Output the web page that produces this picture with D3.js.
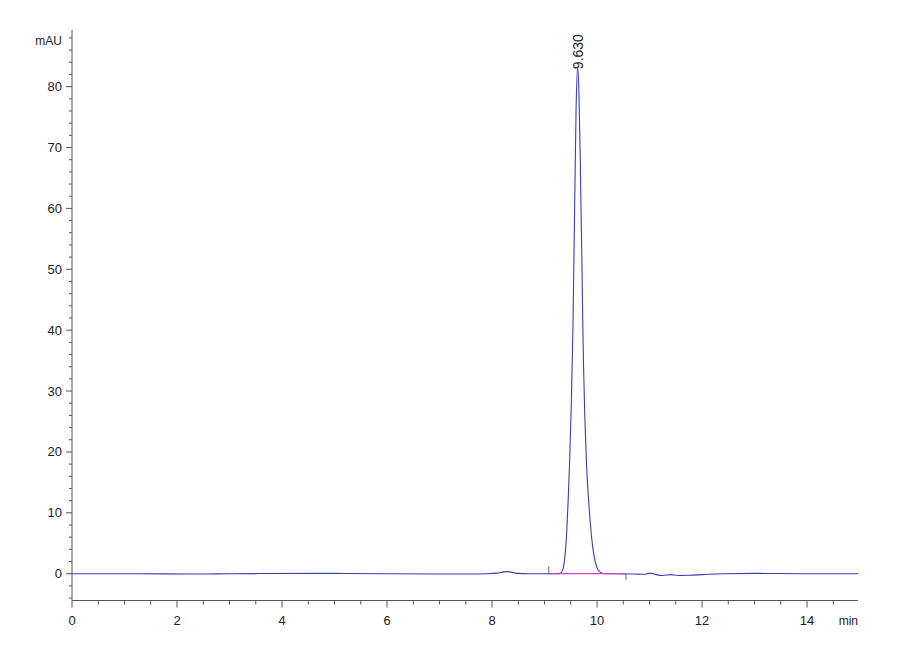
<!DOCTYPE html>
<html>
<head>
<meta charset="utf-8">
<script src="https://cdn.jsdelivr.net/npm/d3@7"></script>
<style>
body { margin:0; background:#fff; }
text { font-family:"Liberation Sans Narrow","Liberation Sans",Arial,sans-serif; fill:#222; }
</style>
</head>
<body>
<div id="svg-area"></div>
<script>
/* Global Variables*/
// retention times (min) and signal (mAU)
var times = [0, 1, 2.5, 3, 5, 6, 7.5, 7.9, 8.1, 8.22, 8.3, 8.4, 8.5, 8.7, 9.0, 9.25,
    9.30, 9.34, 9.38, 9.42, 9.45, 9.48, 9.51, 9.54, 9.57, 9.60, 9.63, 9.655, 9.68, 9.71,
    9.74, 9.77, 9.80, 9.84, 9.88, 9.92, 9.97, 10.02, 10.08, 10.15, 10.4, 10.7, 10.9,
    11.0, 11.1, 11.25, 11.4, 11.55, 11.75, 12.0, 12.4, 13, 14, 14.97];
var signal = [0, 0, -0.05, 0, 0.05, 0, -0.05, 0, 0.1, 0.3, 0.35, 0.2, 0.05, 0, 0, 0.02,
    0.05, 0.5, 2.2, 6.5, 12, 19, 28, 40, 58, 76, 83.2, 79, 68, 52,
    35, 25, 18, 12, 7.5, 4.2, 1.8, 0.6, 0.15, 0, 0, -0.05, -0.1,
    0.1, -0.1, -0.3, -0.15, -0.3, -0.25, -0.15, 0, 0.05, 0, 0];

var peakTimes = [9.630];
var peakHeights = [83.2];
var baseStart = [9.08];
var baseEnd = [10.55];

var xTicks = [0, 2, 4, 6, 8, 10, 12, 14];
var yTicks = [0, 10, 20, 30, 40, 50, 60, 70, 80];

var width = 900;
var height = 660;
var lineColor = '#3c3cb4';
var axisColor = '#555';

var x = d3.scaleLinear().domain([0, 14.97]).range([72, 858]);
var y = d3.scaleLinear().domain([-4.4, 89.3]).range([600.5, 30]);

/*Setup the chart */
displayChart();

/*
 * Main function to draw the chromatogram
 */
function displayChart(){
    var svg = d3.select('#svg-area')
	.append('svg')
	.attr('width', width)
	.attr('height', height);
    displayAxes(svg);
    displayTrace(svg);
    displayBaseline(svg);
    displayPeakLabels(svg);
}

/*
 * Draw both axes with major and minor ticks
 * svg: the svg to draw on
 */
function displayAxes(svg){
    // minor ticks every 0.5 min, every 2 mAU
    var xMinor = d3.range(0, 15, 0.5);
    var yMinor = d3.range(-4, 90, 2);

    var xAxis = svg.append('g')
	.attr('transform', 'translate(0,' + y(-4.4) + ')');
    xAxis.append('line')
	.attr('x1', x(0)).attr('x2', x(14.97))
	.attr('stroke', axisColor);
    xAxis.selectAll('.minor')
	.data(xMinor)
	.enter()
	.append('line')
	.attr('x1', function(d){ return x(d);})
	.attr('x2', function(d){ return x(d);})
	.attr('y1', 0)
	.attr('y2', function(d){ return d % 2 == 0 ? 7 : 4;})
	.attr('stroke', axisColor);
    xAxis.selectAll('text')
	.data(xTicks)
	.enter()
	.append('text')
	.attr('x', function(d){ return x(d);})
	.attr('y', 24)
	.attr('text-anchor', 'middle')
	.style('font-size', '13px')
	.text(function(d){ return d;});
    xAxis.append('text')
	.attr('x', x(14.97))
	.attr('y', 24)
	.attr('text-anchor', 'end')
	.style('font-size', '12px')
	.text('min');

    var yAxis = svg.append('g')
	.attr('transform', 'translate(' + x(0) + ',0)');
    yAxis.append('line')
	.attr('y1', y(-4.4)).attr('y2', y(89.3))
	.attr('stroke', axisColor);
    yAxis.selectAll('.minor')
	.data(yMinor)
	.enter()
	.append('line')
	.attr('y1', function(d){ return y(d);})
	.attr('y2', function(d){ return y(d);})
	.attr('x1', function(d){ return d % 10 == 0 ? -6 : -3;})
	.attr('x2', 0)
	.attr('stroke', axisColor);
    yAxis.selectAll('text')
	.data(yTicks)
	.enter()
	.append('text')
	.attr('x', -10)
	.attr('y', function(d){ return y(d);})
	.attr('dy', '0.35em')
	.attr('text-anchor', 'end')
	.style('font-size', '13px')
	.text(function(d){ return d;});
    yAxis.append('text')
	.attr('x', -10)
	.attr('y', y(87.5))
	.attr('dy', '0.35em')
	.attr('text-anchor', 'end')
	.style('font-size', '12px')
	.text('mAU');
}

/*
 * Draw the integration baseline with its start and end marks
 * svg: the svg to draw on
 */
function displayBaseline(svg){
    var g = svg.append('g');
    g.selectAll('.base')
	.data(baseStart)
	.enter()
	.append('line')
	.attr('x1', function(d){ return x(d);})
	.attr('x2', function(d, i){ return x(baseEnd[i]);})
	.attr('y1', y(0)).attr('y2', y(0))
	.attr('stroke', '#e040c8')
	.attr('stroke-width', 1.3);
    g.selectAll('.start')
	.data(baseStart)
	.enter()
	.append('line')
	.attr('x1', function(d){ return x(d);})
	.attr('x2', function(d){ return x(d);})
	.attr('y1', y(0) - 7).attr('y2', y(0))
	.attr('stroke', '#666');
    g.selectAll('.end')
	.data(baseEnd)
	.enter()
	.append('line')
	.attr('x1', function(d){ return x(d);})
	.attr('x2', function(d){ return x(d);})
	.attr('y1', y(0)).attr('y2', y(0) + 6)
	.attr('stroke', '#666');
}

/*
 * Draw the detector trace
 * svg: the svg to draw on
 */
function displayTrace(svg){
    var pts = times.map(function(t, i){ return [t, signal[i]];});
    var line = d3.line()
	.x(function(d){ return x(d[0]);})
	.y(function(d){ return y(d[1]);})
	.curve(d3.curveMonotoneX);
    svg.append('path')
	.datum(pts)
	.attr('d', line)
	.attr('fill', 'none')
	.attr('stroke', lineColor)
	.attr('stroke-width', 1.1);
}

/*
 * Write the retention time above each peak
 * svg: the svg to draw on
 */
function displayPeakLabels(svg){
    svg.selectAll('.peak')
	.data(peakTimes)
	.enter()
	.append('text')
	.attr('transform', function(d, i){
	    return 'translate(' + (x(d) + 5) + ',' + (y(peakHeights[i]) + 2) + ') rotate(-90)';
	})
	.attr('text-anchor', 'start')
	.style('font-family', '"Liberation Sans",Arial,sans-serif')
	.style('font-size', '14px')
	.text(function(d){ return d.toFixed(3);});
}
</script>
</body>
</html>
